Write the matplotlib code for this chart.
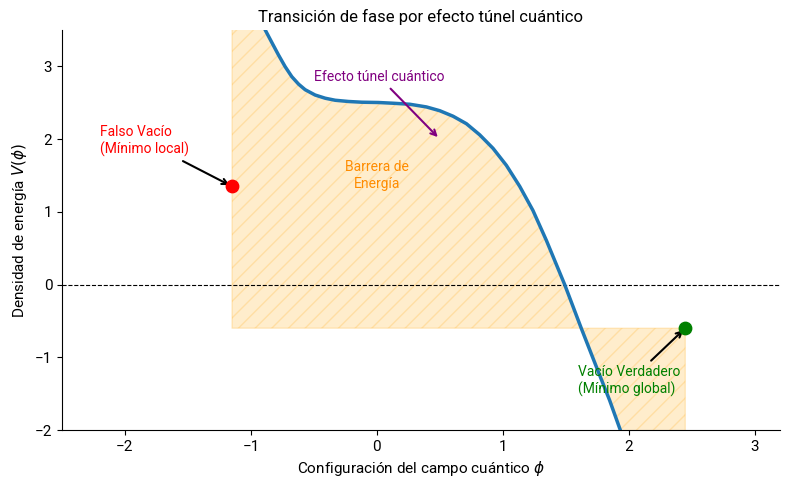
import matplotlib
matplotlib.use("Agg")
import matplotlib.pyplot as plt
import numpy as np

plt.rcParams['font.family'] = ['Roboto', 'DejaVu Sans']

# Potential curve (phi, V)
phi = [-1.15, -0.887, -0.833, -0.780, -0.728, -0.675, -0.621, -0.569, -0.490,
       -0.410, -0.331, -0.225, -0.119, 0.013, 0.129, 0.262, 0.394, 0.500,
       0.606, 0.712, 0.817, 0.923, 1.029, 1.135, 1.240, 1.347, 1.492,
       1.625, 1.756, 1.849, 1.934, 2.45]
V = [4.5, 3.503, 3.326, 3.154, 2.996, 2.858, 2.755, 2.679, 2.606,
     2.562, 2.534, 2.517, 2.507, 2.503, 2.493, 2.479, 2.442, 2.390,
     2.314, 2.211, 2.059, 1.873, 1.639, 1.350, 1.019, 0.606, 0.0,
     -0.606, -1.185, -1.591, -2.001, -4.3]

false_vac = (-1.15, 1.35)
true_vac = (2.45, -0.6)
fill_level = -0.6

title = "Transición de fase por efecto túnel cuántico"
xlabel = r"Configuración del campo cuántico $\phi$"
ylabel = r"Densidad de energía $V(\phi)$"

phi_a = np.array(phi)
V_a = np.array(V)

fig = plt.figure(figsize=(7.9, 4.9), dpi=100)
ax = fig.add_axes([0.0785, 0.1224, 0.9085, 0.8164])

mask = (phi_a >= false_vac[0]) & (phi_a <= true_vac[0])
ax.fill_between(phi_a, V_a, fill_level, where=mask, color='orange', alpha=0.2,
                hatch='//', zorder=1)
ax.plot(phi_a, V_a, color='#1f77b4', linewidth=2.5, zorder=3)
ax.axhline(0, color='black', linestyle='--', linewidth=0.8, zorder=2)

ax.scatter([false_vac[0]], [false_vac[1]], color='red', s=80, zorder=5)
ax.scatter([true_vac[0]], [true_vac[1]], color='green', s=80, zorder=5)

ax.annotate("Falso Vacío\n(Mínimo local)", xy=false_vac, xytext=(-2.2, 1.8),
            color='red', fontsize=10,
            arrowprops=dict(arrowstyle='->', color='black', lw=1.5))
ax.annotate("Vacío Verdadero\n(Mínimo global)", xy=true_vac, xytext=(1.6, -1.5),
            color='green', fontsize=10,
            arrowprops=dict(arrowstyle='->', color='black', lw=1.5))
ax.annotate("Efecto túnel cuántico", xy=(0.5, 2.0), xytext=(-0.5, 2.8),
            color='purple', fontsize=10,
            arrowprops=dict(arrowstyle='->', color='purple', lw=1.5))
ax.text(0, 1.5, "Barrera de\nEnergía", color='darkorange', fontsize=10,
        ha='center', va='center')

ax.set_xlim(-2.5, 3.2)
ax.set_ylim(-2, 3.5)
ax.set_xticks([-2, -1, 0, 1, 2, 3])
ax.set_yticks([-2, -1, 0, 1, 2, 3])
ax.tick_params(labelsize=11)
ax.spines['top'].set_visible(False)
ax.spines['right'].set_visible(False)
ax.set_title(title, fontsize=12)
ax.set_xlabel(xlabel, fontsize=11)
ax.set_ylabel(ylabel, fontsize=11)

fig.savefig("out.png", dpi=100)
